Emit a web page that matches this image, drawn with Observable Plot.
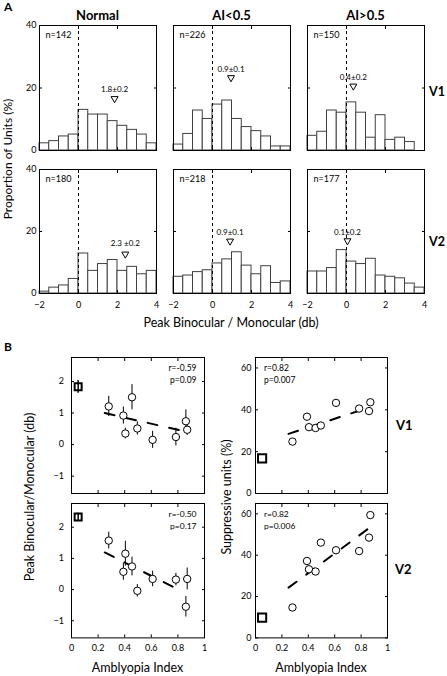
<!DOCTYPE html>
<html>
<head>
<meta charset="utf-8">
<script src="https://cdn.jsdelivr.net/npm/d3@7"></script>
<script src="https://cdn.jsdelivr.net/npm/@observablehq/plot@0.6"></script>
<style>
  html, body { margin: 0; padding: 0; background: #fff; }
  #fig { position: relative; width: 447px; height: 676px; overflow: hidden; font-family: Lato, "Open Sans", sans-serif; color: #000; }
  #fig svg { position: absolute; overflow: visible; }
  .lbl { position: absolute; white-space: nowrap; line-height: 1; }
</style>
</head>
<body>
<div id="fig"></div>
<script>
// ---------------- DATA ----------------
// Panel A: histograms of peak binocular / monocular (db), 0.5 db bins from -2 to 4
const binStarts = [-2, -1.5, -1, -0.5, 0, 0.5, 1, 1.5, 2, 2.5, 3, 3.5];
const binWidth = 0.5;
const histXTicks = [-2, 0, 2, 4];
const histYTicks = [0, 20, 40];
const groups = ["Normal", "AI<0.5", "AI>0.5"];
const areas = ["V1", "V2"];

const normalV1 = [2.3, 3.0, 4.5, 5.1, 13.0, 11.5, 11.5, 9.4, 7.9, 6.6, 5.1, 2.3];
const lowAIV1  = [1.9, 5.3, 12.8, 10.1, 14.7, 16.0, 10.1, 7.5, 6.2, 4.5, 1.3, 1.3];
const highAIV1 = [4.7, 6.0, 12.8, 12.1, 15.4, 12.1, 4.1, 11.3, 3.4, 4.1, 2.7, 0];
const normalV2 = [0.6, 1.9, 2.6, 4.7, 12.9, 7.3, 9.5, 10.8, 7.3, 8.6, 6.2, 7.3];
const lowAIV2  = [5.4, 5.8, 6.9, 7.5, 9.7, 11.0, 13.3, 9.0, 6.2, 8.8, 3.4, 3.9];
const highAIV2 = [7.1, 7.1, 8.2, 14.0, 10.3, 9.5, 11.2, 5.8, 5.4, 4.9, 3.2, 1.9];

const nUnits = [[142, 226, 150], [180, 218, 177]];
const meanX = [[1.85, 0.95, 0.35], [2.4, 0.9, 0.05]];
const markerY = [[16.6, 23.3, 20.6], [12.7, 16.9, 17.0]];
const meanLabels = [["1.8±0.2", "0.9±0.1", "0.4±0.2"], ["2.3 ±0.2", "0.9±0.1", "0.1±0.2"]];
const meanLabelY = [[19.4, 25.9, 23.3], [16.1, 19.7, 19.7]];

// Panel B: per-animal values vs amblyopia index
const amblyopiaIndex = [0.28, 0.39, 0.405, 0.455, 0.495, 0.61, 0.785, 0.86, 0.87];
const peakV1    = [1.21, 0.92, 0.35, 1.50, 0.51, 0.15, 0.24, 0.74, 0.47];
const peakV1Err = [0.32, 0.27, 0.17, 0.40, 0.21, 0.27, 0.28, 0.36, 0.18];
const peakV2    = [1.57, 0.57, 1.15, 0.74, -0.04, 0.34, 0.32, -0.55, 0.34];
const peakV2Err = [0.27, 0.27, 0.40, 0.30, 0.20, 0.25, 0.20, 0.33, 0.35];
const suppV1    = [24.8, 36.7, 31.7, 31.3, 32.5, 43.3, 40.6, 39.4, 43.6];
const suppV2    = [14.7, 37.2, 33.2, 32.1, 46.1, 42.4, 42.0, 48.5, 59.4];

const controlAI = 0.05;
const controlPeak = [1.83, 2.33];
const controlPeakErr = [0.2, 0.12];
const controlSupp = [16.8, 9.8];

const fitPeakV1X = [0.25, 0.86], fitPeakV1Y = [1.0, 0.41];
const fitPeakV2X = [0.25, 0.79], fitPeakV2Y = [1.19, 0.03];
const fitSuppV1X = [0.25, 0.87], fitSuppV1Y = [28.5, 41.3];
const fitSuppV2X = [0.25, 0.865], fitSuppV2Y = [24.3, 53.3];

const statsPeak = [["r=-0.59", "p=0.09"], ["r=-0.50", "p=0.17"]];
const statsSupp = [["r=0.82", "p=0.007"], ["r=0.82", "p=0.006"]];

const aiTicks = [0, 0.2, 0.4, 0.6, 0.8, 1];
const peakTicks = [-1, 0, 1, 2];
const suppTicks = [0, 20, 40, 60];

// ---------------- RENDER ----------------
const FONT = "Lato, 'Open Sans', sans-serif";
const fig = document.getElementById("fig");
const tickFmt = d3.format("~g");

function place(svg, left, top) {
  svg.style.left = left + "px";
  svg.style.top = top + "px";
  fig.appendChild(svg);
}

function label(text, x, y, {size = 12, weight = "normal", rotate = 0, anchor = "middle"} = {}) {
  const d = document.createElement("div");
  d.className = "lbl";
  d.textContent = text;
  d.style.left = x + "px";
  d.style.top = y + "px";
  d.style.fontSize = size + "px";
  d.style.fontWeight = weight;
  const tx = anchor === "middle" ? "-50%" : anchor === "end" ? "-100%" : "0";
  d.style.transform = `translate(${tx},-50%)` + (rotate ? ` rotate(${rotate}deg)` : "");
  fig.appendChild(d);
}

function boxAxes(xTicks, yTicks, {xText = false, yText = false, xPad = 6, yPad = 4, tick = 3, fontSize = 9} = {}) {
  return [
    Plot.axisX(xTicks, {anchor: "bottom", tickSize: -tick, fill: "none", label: null}),
    Plot.axisX(xTicks, {anchor: "top", tickSize: -tick, fill: "none", label: null}),
    Plot.axisY(yTicks, {anchor: "left", tickSize: -tick, fill: "none", label: null}),
    Plot.axisY(yTicks, {anchor: "right", tickSize: -tick, fill: "none", label: null}),
    xText ? Plot.axisX(xTicks, {anchor: "bottom", tickSize: 0, tickPadding: xPad, label: null, fontSize, tickFormat: tickFmt}) : null,
    yText ? Plot.axisY(yTicks, {anchor: "left", tickSize: 0, tickPadding: yPad, label: null, fontSize, tickFormat: tickFmt}) : null
  ];
}

// Panel A layout (frame boxes)
const histCols = [39, 173, 307];
const histRows = [25, 169.3];
const histH = [125, 124];
const histW = 117;
const histValues = [[normalV1, lowAIV1, highAIV1], [normalV2, lowAIV2, highAIV2]];

function histogram(r, c) {
  const values = histValues[r][c];
  const m = {l: 26, r: 6, t: 6, b: 20};
  const bars = binStarts.map((b, i) => ({x1: b, x2: b + binWidth, p: values[i]}));
  const svg = Plot.plot({
    width: histW + m.l + m.r, height: histH[r] + m.t + m.b,
    marginLeft: m.l, marginRight: m.r, marginTop: m.t, marginBottom: m.b,
    style: {fontFamily: FONT, fontSize: "9px", background: "none", overflow: "visible"},
    x: {domain: [-2, 4], label: null},
    y: {domain: [0, 40], label: null},
    marks: [
      Plot.rectY(bars, {x1: "x1", x2: "x2", y: "p", fill: "white", stroke: "#404040", strokeWidth: 1}),
      Plot.ruleX([0], {stroke: "black", strokeWidth: 1, strokeDasharray: "3,3"}),
      Plot.dot([{x: meanX[r][c], y: markerY[r][c]}], {x: "x", y: "y", symbol: "triangle", rotate: 180, r: 2.6, stroke: "black", fill: "white", strokeWidth: 1}),
      Plot.text([{x: meanX[r][c], y: meanLabelY[r][c], t: meanLabels[r][c]}], {x: "x", y: "y", text: "t", fontSize: 8}),
      Plot.text([`n=${nUnits[r][c]}`], {frameAnchor: "top-left", dx: 6, dy: 6, lineAnchor: "top", textAnchor: "start", fontSize: 9}),
      ...boxAxes(histXTicks, histYTicks, {xText: r === 1, yText: c === 0, xPad: 8, yPad: 3}),
      Plot.frame({stroke: "black", strokeWidth: 1})
    ]
  });
  place(svg, histCols[c] - m.l, histRows[r] - m.t);
}

for (let r = 0; r < 2; r++) for (let c = 0; c < 3; c++) histogram(r, c);

// Panel B layout
const scCols = [71, 255];
const scW = [133, 132];
const scRows = [357, 503.3];
const scH = [136, 134.4];

function scatter(r, c) {
  const isPeak = c === 0;
  const vals = isPeak ? (r === 0 ? peakV1 : peakV2) : (r === 0 ? suppV1 : suppV2);
  const errs = isPeak ? (r === 0 ? peakV1Err : peakV2Err) : null;
  const fx = isPeak ? (r === 0 ? fitPeakV1X : fitPeakV2X) : (r === 0 ? fitSuppV1X : fitSuppV2X);
  const fy = isPeak ? (r === 0 ? fitPeakV1Y : fitPeakV2Y) : (r === 0 ? fitSuppV1Y : fitSuppV2Y);
  const pts = amblyopiaIndex.map((a, i) => ({a, v: vals[i], e: errs ? errs[i] : 0}));
  const fit = fx.map((x, i) => ({x, y: fy[i]}));
  const ctrl = [{x: controlAI, y: isPeak ? controlPeak[r] : controlSupp[r], e: isPeak ? controlPeakErr[r] : 0}];
  const stats = (isPeak ? statsPeak : statsSupp)[r].join("\n");
  const m = {l: 30, r: 6, t: 6, b: 20};
  const svg = Plot.plot({
    width: scW[c] + m.l + m.r, height: scH[r] + m.t + m.b,
    marginLeft: m.l, marginRight: m.r, marginTop: m.t, marginBottom: m.b,
    style: {fontFamily: FONT, fontSize: "9px", background: "none", overflow: "visible"},
    x: {domain: [0, 1], label: null},
    y: {domain: isPeak ? [-1.55, 2.76] : [0, 65], label: null},
    marks: [
      Plot.line(fit, {x: "x", y: "y", stroke: "black", strokeWidth: 2, strokeDasharray: "10,12"}),
      isPeak ? Plot.ruleX(pts, {x: "a", y1: d => d.v - d.e, y2: d => d.v + d.e, stroke: "black", strokeWidth: 1}) : null,
      Plot.dot(pts, {x: "a", y: "v", r: 3.7, stroke: "black", fill: "white", strokeWidth: 1}),
      Plot.dot(ctrl, {x: "x", y: "y", symbol: "square", r: isPeak ? 3.95 : 4.6, stroke: "black", fill: "white", strokeWidth: 2}),
      isPeak ? Plot.ruleX(ctrl, {x: "x", y1: d => d.y - d.e, y2: d => d.y + d.e, stroke: "black", strokeWidth: 1.5}) : null,
      Plot.text([stats], isPeak
        ? {frameAnchor: "top-right", dx: -8, dy: 5.5, lineAnchor: "top", textAnchor: "end", lineHeight: 1.38, fontSize: 8.5}
        : {frameAnchor: "top-left", dx: 8.5, dy: 5.5, lineAnchor: "top", textAnchor: "start", lineHeight: 1.38, fontSize: 8.5}),
      ...boxAxes(aiTicks, isPeak ? peakTicks : suppTicks, {xText: r === 1, yText: true, xPad: 6.5, yPad: isPeak ? 7.5 : 4}),
      Plot.frame({stroke: "black", strokeWidth: 1})
    ]
  });
  place(svg, scCols[c] - m.l, scRows[r] - m.t);
}

for (let r = 0; r < 2; r++) for (let c = 0; c < 2; c++) scatter(r, c);

// Text labels
label("A", 4, 7, {size: 12, weight: "bold", anchor: "start"});
label("B", 4, 347, {size: 12, weight: "bold", anchor: "start"});
groups.forEach((g, c) => label(g, histCols[c] + histW / 2, 15, {size: 13, weight: "bold"}));
label(areas[0], 445, 92, {size: 12.5, weight: "bold", anchor: "end"});
label(areas[1], 445, 242, {size: 12.5, weight: "bold", anchor: "end"});
label("Proportion of Units (%)", 8, 159, {size: 12, rotate: -90});
label("Peak Binocular / Monocular (db)", 231, 323, {size: 12.5});
label("Peak Binocular/Monocular (db)", 30, 497, {size: 12.5, rotate: -90});
label("Suppressive units (%)", 227, 497, {size: 12.5, rotate: -90});
label("Amblyopia Index", 137.5, 668, {size: 12.5});
label("Amblyopia Index", 321, 668, {size: 12.5});
label(areas[0], 396, 425, {size: 13, weight: "bold", anchor: "start"});
label(areas[1], 395, 569, {size: 13, weight: "bold", anchor: "start"});
</script>
</body>
</html>
